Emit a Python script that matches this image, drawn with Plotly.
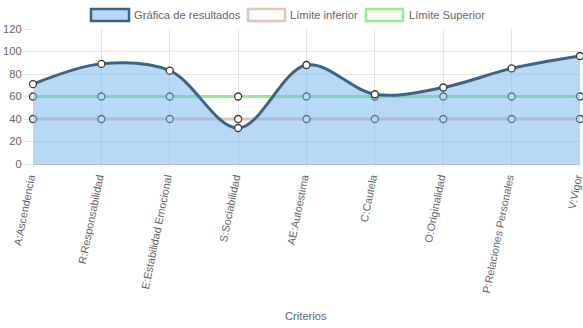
import plotly.graph_objects as go

categories = ["A:Ascendencia", "R:Responsabilidad", "E:Estabilidad Emocional", "S:Sociabilidad",
              "AE:Autoestima", "C:Cautela", "O:Originalidad", "P:Relaciones Personales", "V:Vigor"]
resultados = [71, 89, 83, 32, 88, 62, 68, 85, 96]
limite_inferior = [40, 40, 40, 40, 40, 40, 40, 40, 40]
limite_superior = [60, 60, 60, 60, 60, 60, 60, 60, 60]
series_names = ["Gráfica de resultados", "Límite inferior", "Límite Superior"]
y_ticks = [0, 20, 40, 60, 80, 100, 120]

W, H = 583, 328
L, R, T, B = 33, 3, 29, 164
PW, PH = W - L - R, H - T - B

FONT = "Liberation Sans, Arial, sans-serif"
FS = 11.2
GREY = "#666666"
RES_LINE = "rgb(60,100,134)"
RES_FILL = "rgba(113,179,237,0.5)"
INF_LINE = "rgb(230,196,184)"
SUP_LINE = "rgb(144,238,144)"

xs = list(range(len(categories)))
marker = dict(size=7, color="white", line=dict(color="#3a3a3a", width=1.3))

fig = go.Figure()
fig.add_trace(go.Scatter(x=xs, y=limite_superior, mode="lines+markers", name=series_names[2],
                         line=dict(color=SUP_LINE, width=3), marker=marker, cliponaxis=False))
fig.add_trace(go.Scatter(x=xs, y=limite_inferior, mode="lines+markers", name=series_names[1],
                         line=dict(color=INF_LINE, width=3), marker=marker, cliponaxis=False))
fig.add_trace(go.Scatter(x=xs, y=resultados, mode="lines+markers", name=series_names[0],
                         line=dict(color=RES_LINE, width=3, shape="spline", smoothing=1.0),
                         fill="tozeroy", fillcolor=RES_FILL, marker=marker, cliponaxis=False))


def px(x):
    return (x - L) / PW


def py(y):
    return (H - B - y) / PH


# custom legend (Chart.js style boxes)
legend_items = [
    (91, 129, RES_LINE, RES_FILL, 132, series_names[0]),
    (248, 285, INF_LINE, "white", 288, series_names[1]),
    (366, 403, SUP_LINE, "white", 407, series_names[2]),
]
shapes = []
annotations = []
for x0, x1, lc, fc, tx, name in legend_items:
    shapes.append(dict(type="rect", xref="paper", yref="paper",
                       x0=px(x0), x1=px(x1), y0=py(21), y1=py(9),
                       line=dict(color=lc, width=2.5), fillcolor=fc, layer="above"))
    annotations.append(dict(text=name, xref="paper", yref="paper", x=px(tx), y=py(15),
                            xanchor="left", yanchor="middle", showarrow=False,
                            font=dict(family=FONT, size=FS, color=GREY)))

annotations.append(dict(text="Criterios", xref="paper", yref="paper", x=px(306), y=py(316),
                        xanchor="center", yanchor="middle", showarrow=False,
                        font=dict(family=FONT, size=FS, color=GREY)))

fig.update_layout(
    width=W, height=H,
    margin=dict(l=L, r=R, t=T, b=B, autoexpand=False),
    paper_bgcolor="white", plot_bgcolor="white",
    showlegend=False,
    font=dict(family=FONT, size=FS, color=GREY),
    shapes=shapes, annotations=annotations,
    xaxis=dict(range=[0, len(categories) - 1], tickvals=xs, ticktext=categories,
               tickangle=-78.5, showgrid=True, gridcolor="rgba(0,0,0,0.1)", gridwidth=1,
               ticks="outside", ticklen=2, tickcolor="rgba(0,0,0,0.1)",
               showline=True, linecolor="rgba(0,0,0,0.25)", linewidth=1,
               zeroline=False, automargin=False, ticklabeloverflow="allow",
               ticklabelshift=-3,
               tickfont=dict(size=10.8, color=GREY)),
    yaxis=dict(range=[0, 120], tickvals=y_ticks, showgrid=True, gridcolor="rgba(0,0,0,0.1)",
               gridwidth=1, ticks="outside", ticklen=8, tickcolor="rgba(0,0,0,0.1)",
               showline=False, zeroline=False, automargin=False,
               tickfont=dict(size=FS, color=GREY)),
)

fig.write_html("out.html")
